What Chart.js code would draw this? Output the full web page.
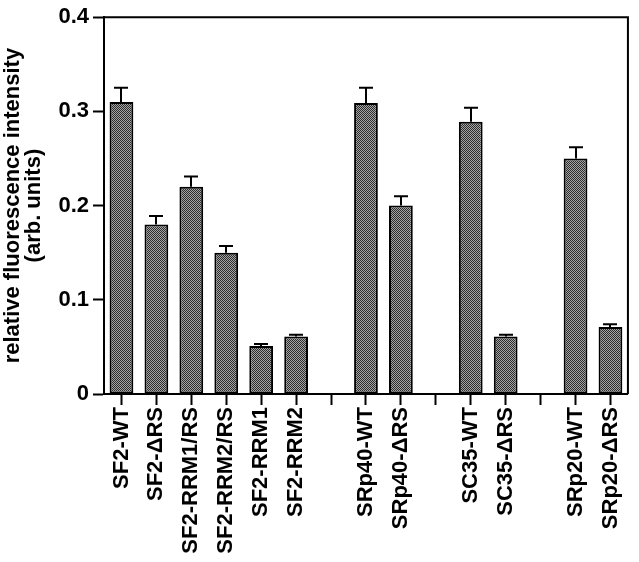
<!DOCTYPE html>
<html>
<head>
<meta charset="utf-8">
<script src="https://cdn.jsdelivr.net/npm/chart.js@4/dist/chart.umd.min.js"></script>
<style>
    html, body { margin: 0; padding: 0; background: #ffffff; }
    #wrap { width: 639px; height: 562px; position: relative; }
</style>
</head>
<body>
<div id="wrap"><canvas id="fluoChart"></canvas></div>
<script>
// Categories ('' = empty gap slot between groups)
const categories = [
    'SF2-WT', 'SF2-ΔRS', 'SF2-RRM1/RS', 'SF2-RRM2/RS', 'SF2-RRM1', 'SF2-RRM2',
    '',
    'SRp40-WT', 'SRp40-ΔRS',
    '',
    'SC35-WT', 'SC35-ΔRS',
    '',
    'SRp20-WT', 'SRp20-ΔRS'
];

// Mean intensity and error (arb. units)
const intensity = [0.31, 0.18, 0.22, 0.15, 0.051, 0.061, null, 0.309, 0.20, null, 0.289, 0.061, null, 0.25, 0.071];
const errors    = [0.015, 0.009, 0.011, 0.007, 0.002, 0.002, null, 0.016, 0.01, null, 0.015, 0.002, null, 0.012, 0.003];

const yTickLabels = ['0', '0.1', '0.2', '0.3', '0.4'];

// Stippled grey fill like the printed bars
function makeStipple() {
    const c = document.createElement('canvas');
    c.width = 2;
    c.height = 2;
    const g = c.getContext('2d');
    g.fillStyle = '#a6a6a6';
    g.fillRect(0, 0, 2, 2);
    g.fillStyle = '#2c2c2c';
    g.fillRect(0, 0, 1, 1);
    g.fillRect(1, 1, 1, 1);
    return g.createPattern(c, 'repeat');
}

// Error bars drawn from the y scale
const errorBarPlugin = {
    id: 'errorBars',
    afterDatasetsDraw(chart) {
        const ctx = chart.ctx;
        const yScale = chart.scales.y;
        const meta = chart.getDatasetMeta(0);
        ctx.save();
        ctx.strokeStyle = '#000';
        ctx.lineWidth = 2;
        meta.data.forEach((bar, i) => {
            const v = intensity[i];
            const e = errors[i];
            if (v == null || e == null) return;
            const x = Math.round(bar.x);
            const yTop = yScale.getPixelForValue(v + e);
            const yVal = yScale.getPixelForValue(v);
            ctx.beginPath();
            ctx.moveTo(x, yVal);
            ctx.lineTo(x, yTop);
            ctx.moveTo(x - 7, yTop);
            ctx.lineTo(x + 7, yTop);
            ctx.stroke();
        });
        ctx.restore();
    }
};

// Top and right frame lines
const framePlugin = {
    id: 'frame',
    afterDraw(chart) {
        const { ctx, chartArea } = chart;
        ctx.save();
        ctx.strokeStyle = '#000';
        ctx.lineWidth = 2;
        ctx.beginPath();
        ctx.moveTo(chartArea.left, chartArea.top);
        ctx.lineTo(chartArea.right, chartArea.top);
        ctx.lineTo(chartArea.right, chartArea.bottom);
        ctx.stroke();
        ctx.restore();
    }
};

const ctx = document.getElementById('fluoChart').getContext('2d');
new Chart(ctx, {
    type: 'bar',
    data: {
        labels: categories,
        datasets: [{
            data: intensity,
            backgroundColor: makeStipple(),
            borderColor: '#000',
            borderWidth: 2,
            borderSkipped: false,
            barPercentage: 0.68,
            categoryPercentage: 1.0
        }]
    },
    options: {
        responsive: true,
        maintainAspectRatio: false,
        animation: false,
        layout: { padding: { top: 13, right: 4, left: 0, bottom: 0 } },
        plugins: {
            legend: { display: false },
            tooltip: { enabled: false }
        },
        scales: {
            x: {
                offset: true,
                grid: {
                    offset: false,
                    drawOnChartArea: false,
                    drawTicks: true,
                    tickLength: 11,
                    tickWidth: 2,
                    tickColor: '#000'
                },
                border: { display: true, color: '#000', width: 2 },
                ticks: {
                    autoSkip: false,
                    maxRotation: 90,
                    minRotation: 90,
                    padding: 2,
                    color: '#000',
                    font: { family: 'Liberation Sans', size: 22, weight: 'bold' }
                },
                afterFit(scale) { scale.height = 168; }
            },
            y: {
                min: 0,
                max: 0.4,
                grid: {
                    drawOnChartArea: false,
                    drawTicks: true,
                    tickLength: 11,
                    tickWidth: 2,
                    tickColor: '#000'
                },
                border: { display: true, color: '#000', width: 2 },
                ticks: {
                    stepSize: 0.1,
                    padding: 4,
                    color: '#000',
                    font: { family: 'Liberation Sans', size: 22, weight: 'bold' },
                    callback: (val, idx) => yTickLabels[idx]
                },
                title: {
                    display: true,
                    text: ['relative fluorescence intensity', '(arb. units)'],
                    color: '#000',
                    padding: { top: 3, bottom: 0 },
                    font: { family: 'Liberation Sans', size: 22, weight: 'bold', lineHeight: 0.93 }
                },
                afterFit(scale) { scale.width = 104; }
            }
        }
    },
    plugins: [errorBarPlugin, framePlugin]
});
</script>
</body>
</html>
